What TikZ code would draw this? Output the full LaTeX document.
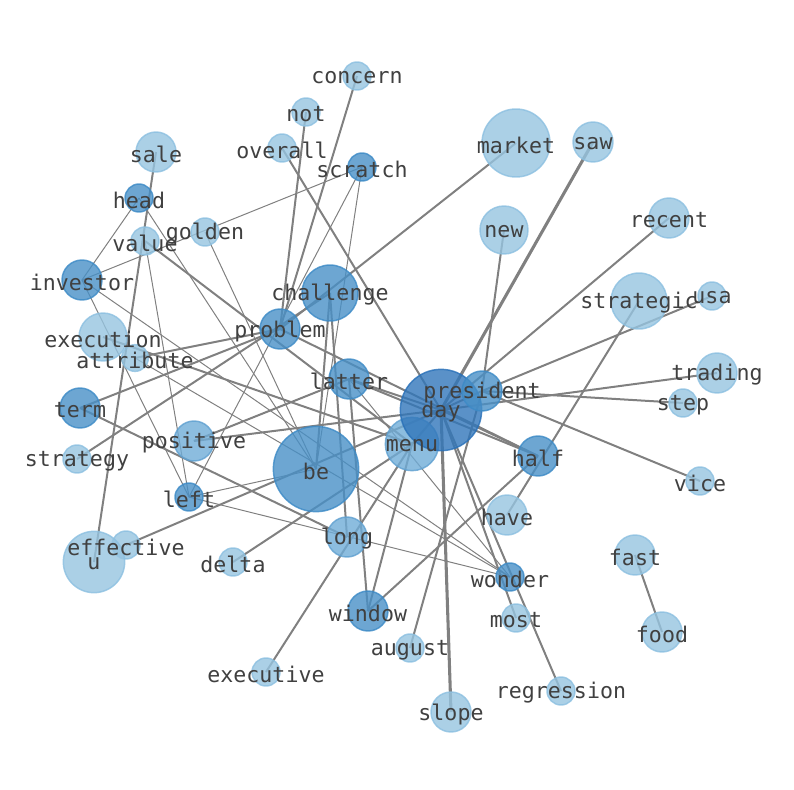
\documentclass[tikz,border=0pt]{standalone}
\usepackage{fontspec}
\newfontfamily\wordfont{DejaVu Sans Mono}
\usetikzlibrary{positioning}

\definecolor{lightfill}{RGB}{150,196,224}
\definecolor{lightline}{RGB}{140,192,224}
\definecolor{softfill}{RGB}{111,172,215}
\definecolor{softline}{RGB}{95,160,208}
\definecolor{midfill}{RGB}{72,144,199}
\definecolor{midline}{RGB}{60,138,198}
\definecolor{darkfill}{RGB}{49,118,186}
\definecolor{darkline}{RGB}{40,112,184}
\definecolor{edgegray}{RGB}{128,128,128}
\definecolor{wordgray}{RGB}{64,64,64}

\pgfdeclarelayer{edges}
\pgfsetlayers{edges,main}

\tikzset{
  word/.style={circle, inner sep=0pt, line width=1.1pt, fill opacity=0.8, draw opacity=0.8},
  lightword/.style={word, fill=lightfill, draw=lightline},
  softword/.style={word, fill=softfill, draw=softline},
  midword/.style={word, fill=midfill, draw=midline},
  darkword/.style={word, fill=darkfill, draw=darkline},
  wordlabel/.style={font=\wordfont\fontsize{16.2}{18}\selectfont, text=wordgray, yshift=-1.5pt},
  linkthin/.style={draw=edgegray, line width=0.75pt},
  linkmid/.style={draw=edgegray, line width=1.5pt},
  linkthick/.style={draw=edgegray, line width=2.3pt}
}

\begin{document}
\begin{tikzpicture}[x=0.75pt, y=-0.75pt]
    \useasboundingbox (0,0) rectangle (794,790);

    % Words
    \node[lightword, minimum size=21pt] (concern) at (357,76) {};
    \node[lightword, minimum size=21pt] (not) at (306,112) {};
    \node[lightword, minimum size=21pt] (overall) at (282,148) {};
    \node[midword, minimum size=21pt] (scratch) at (362,167) {};
    \node[lightword, minimum size=30pt] (sale) at (156,152) {};
    \node[midword, minimum size=21pt] (head) at (139,198) {};
    \node[lightword, minimum size=21pt] (golden) at (205,232) {};
    \node[lightword, minimum size=21pt] (value) at (145,241) {};
    \node[midword, minimum size=30pt] (investor) at (82,280) {};
    \node[midword, minimum size=42pt] (challenge) at (330,293) {};
    \node[midword, minimum size=30pt] (problem) at (280,329) {};
    \node[lightword, minimum size=36pt] (execution) at (103,337) {};
    \node[lightword, minimum size=20pt] (attribute) at (135,358) {};
    \node[midword, minimum size=30pt] (latter) at (349,379) {};
    \node[midword, minimum size=30pt] (term) at (80,408) {};
    \node[softword, minimum size=30pt] (positive) at (194,441) {};
    \node[lightword, minimum size=21pt] (strategy) at (77,459) {};
    \node[midword, minimum size=64pt] (be) at (316,469) {};
    \node[softword, minimum size=40pt] (menu) at (412,444) {};
    \node[darkword, minimum size=61pt] (day) at (441,410) {};
    \node[midword, minimum size=30pt] (president) at (482,391) {};
    \node[midword, minimum size=30pt] (half) at (538,456) {};
    \node[midword, minimum size=21pt] (left) at (189,497) {};
    \node[lightword, minimum size=21pt] (effective) at (126,545) {};
    \node[lightword, minimum size=46pt] (u) at (94,562) {};
    \node[lightword, minimum size=21pt] (delta) at (233,562) {};
    \node[softword, minimum size=30pt] (long) at (347,537) {};
    \node[lightword, minimum size=30pt] (have) at (507,515) {};
    \node[midword, minimum size=21pt] (wonder) at (510,577) {};
    \node[midword, minimum size=30pt] (window) at (368,611) {};
    \node[lightword, minimum size=21pt] (most) at (516,618) {};
    \node[lightword, minimum size=21pt] (august) at (410,648) {};
    \node[lightword, minimum size=21pt] (executive) at (266,672) {};
    \node[lightword, minimum size=30pt] (slope) at (451,712) {};
    \node[lightword, minimum size=21pt] (regression) at (561,691) {};
    \node[lightword, minimum size=30pt] (fast) at (635,555) {};
    \node[lightword, minimum size=30pt] (food) at (662,632) {};
    \node[lightword, minimum size=51pt] (market) at (516,143) {};
    \node[lightword, minimum size=30pt] (saw) at (593,142) {};
    \node[lightword, minimum size=36pt] (new) at (504,230) {};
    \node[lightword, minimum size=30pt] (recent) at (669,218) {};
    \node[lightword, minimum size=42pt] (strategic) at (639,301) {};
    \node[lightword, minimum size=21pt] (usa) at (712,296) {};
    \node[lightword, minimum size=30pt] (trading) at (717,373) {};
    \node[lightword, minimum size=21pt] (step) at (683,403) {};
    \node[lightword, minimum size=21pt] (vice) at (700,481) {};

    % Links
    \begin{pgfonlayer}{edges}
    \foreach \a/\b in {scratch/left, scratch/be, scratch/investor, head/investor,
        head/be, value/left, golden/be, investor/wonder, investor/left,
        attribute/wonder, left/wonder, left/be, latter/wonder}
      \draw[linkthin] (\a.center) -- (\b.center);
    \foreach \a/\b in {concern/problem, not/problem, overall/day, sale/u,
        value/menu, attribute/problem, execution/menu, market/problem,
        new/president, august/president, recent/day, strategic/have,
        usa/president, trading/day, step/president, vice/president,
        latter/half, problem/half, half/window, day/half, day/most,
        day/regression, executive/menu, delta/menu, window/menu,
        effective/day, term/long, term/problem, strategy/challenge,
        positive/latter, positive/day, challenge/be, challenge/long,
        latter/window, latter/day, fast/food, president/day, menu/day}
      \draw[linkmid] (\a.center) -- (\b.center);
    \foreach \a/\b in {saw/day, day/slope}
      \draw[linkthick] (\a.center) -- (\b.center);
    \end{pgfonlayer}

    % Labels
    \foreach \w in {concern, not, overall, scratch, sale, head, golden, value,
        investor, challenge, problem, execution, attribute, latter, term,
        positive, strategy, be, menu, day, president, half, left, effective,
        u, delta, long, have, wonder, window, most, august, executive, slope,
        regression, fast, food, market, saw, new, recent, strategic, usa,
        trading, step, vice}
      \node[wordlabel] at (\w) {\w};
\end{tikzpicture}
\end{document}
